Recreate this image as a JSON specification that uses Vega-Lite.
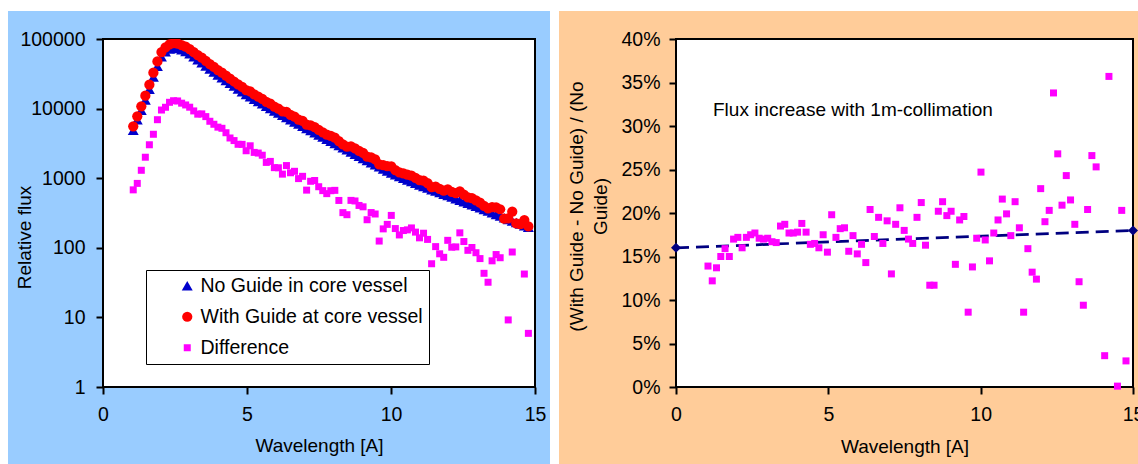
{
  "$schema": "https://vega.github.io/schema/vega-lite/v6.json",
  "background": "white",
  "padding": {"left": 7, "top": 10, "right": 0, "bottom": 0},
  "spacing": 8,
  "config": {
    "font": "Liberation Sans",
    "view": {"stroke": null},
    "point": {"opacity": 1},
    "axis": {
      "grid": false, "domain": false, "ticks": true, "tickColor": "black", "tickWidth": 2, "tickSize": 7,
      "labelFontSize": 19.5, "labelColor": "black", "labelFont": "Liberation Sans",
      "titleFontSize": 19, "titleColor": "black", "titleFontWeight": "normal", "titleFont": "Liberation Sans",
      "labelFlush": false, "labelOverlap": false
    }
  },
  "datasets": {
    "spectra": [
      {"wl":1.05,"noGuide":4890,"withGuide":5570,"difference":680,"ratio":0.139},
      {"wl":1.19,"noGuide":6900,"withGuide":7742,"difference":842,"ratio":0.122},
      {"wl":1.33,"noGuide":9480,"withGuide":10779,"difference":1299,"ratio":0.137},
      {"wl":1.47,"noGuide":13340,"withGuide":15341,"difference":2001,"ratio":0.150},
      {"wl":1.61,"noGuide":19010,"withGuide":22033,"difference":3023,"ratio":0.159},
      {"wl":1.75,"noGuide":28510,"withGuide":32787,"difference":4277,"ratio":0.150},
      {"wl":1.89,"noGuide":40740,"withGuide":47666,"difference":6926,"ratio":0.170},
      {"wl":2.03,"noGuide":55460,"withGuide":64999,"difference":9539,"ratio":0.172},
      {"wl":2.17,"noGuide":65310,"withGuide":75760,"difference":10450,"ratio":0.160},
      {"wl":2.31,"noGuide":71610,"withGuide":83927,"difference":12317,"ratio":0.172},
      {"wl":2.45,"noGuide":74130,"withGuide":87103,"difference":12973,"ratio":0.175},
      {"wl":2.59,"noGuide":72780,"withGuide":85662,"difference":12882,"ratio":0.177},
      {"wl":2.73,"noGuide":69980,"withGuide":81947,"difference":11967,"ratio":0.171},
      {"wl":2.87,"noGuide":66370,"withGuide":77653,"difference":11283,"ratio":0.170},
      {"wl":3.01,"noGuide":61240,"withGuide":71712,"difference":10472,"ratio":0.171},
      {"wl":3.15,"noGuide":55460,"withGuide":64722,"difference":9262,"ratio":0.167},
      {"wl":3.29,"noGuide":50120,"withGuide":58440,"difference":8320,"ratio":0.166},
      {"wl":3.43,"noGuide":45390,"withGuide":53787,"difference":8397,"ratio":0.185},
      {"wl":3.57,"noGuide":41020,"withGuide":48691,"difference":7671,"ratio":0.187},
      {"wl":3.71,"noGuide":37150,"withGuide":43726,"difference":6576,"ratio":0.177},
      {"wl":3.85,"noGuide":33650,"withGuide":39606,"difference":5956,"ratio":0.177},
      {"wl":3.99,"noGuide":30410,"withGuide":35823,"difference":5413,"ratio":0.178},
      {"wl":4.13,"noGuide":27730,"withGuide":32943,"difference":5213,"ratio":0.188},
      {"wl":4.27,"noGuide":25290,"withGuide":29792,"difference":4502,"ratio":0.178},
      {"wl":4.41,"noGuide":23070,"withGuide":26853,"difference":3783,"ratio":0.164},
      {"wl":4.55,"noGuide":21040,"withGuide":24512,"difference":3472,"ratio":0.165},
      {"wl":4.69,"noGuide":19190,"withGuide":22260,"difference":3070,"ratio":0.160},
      {"wl":4.83,"noGuide":17500,"withGuide":20563,"difference":3063,"ratio":0.175},
      {"wl":4.97,"noGuide":16000,"withGuide":18480,"difference":2480,"ratio":0.155},
      {"wl":5.11,"noGuide":14760,"withGuide":17682,"difference":2922,"ratio":0.198},
      {"wl":5.25,"noGuide":13650,"withGuide":15998,"difference":2348,"ratio":0.172},
      {"wl":5.39,"noGuide":12620,"withGuide":14917,"difference":2297,"ratio":0.182},
      {"wl":5.53,"noGuide":11690,"withGuide":13829,"difference":2139,"ratio":0.183},
      {"wl":5.67,"noGuide":10810,"withGuide":12496,"difference":1686,"ratio":0.156},
      {"wl":5.81,"noGuide":10020,"withGuide":11763,"difference":1743,"ratio":0.174},
      {"wl":5.95,"noGuide":9268,"withGuide":10686,"difference":1418,"ratio":0.153},
      {"wl":6.09,"noGuide":8610,"withGuide":10022,"difference":1412,"ratio":0.164},
      {"wl":6.23,"noGuide":7998,"withGuide":9142,"difference":1144,"ratio":0.143},
      {"wl":6.37,"noGuide":7447,"withGuide":8966,"difference":1519,"ratio":0.204},
      {"wl":6.51,"noGuide":6918,"withGuide":8115,"difference":1197,"ratio":0.173},
      {"wl":6.65,"noGuide":6442,"withGuide":7698,"difference":1256,"ratio":0.195},
      {"wl":6.79,"noGuide":5984,"withGuide":6971,"difference":987,"ratio":0.165},
      {"wl":6.93,"noGuide":5572,"withGuide":6636,"difference":1064,"ratio":0.191},
      {"wl":7.07,"noGuide":5188,"withGuide":5862,"difference":674,"ratio":0.130},
      {"wl":7.21,"noGuide":4831,"withGuide":5734,"difference":903,"ratio":0.187},
      {"wl":7.35,"noGuide":4498,"withGuide":5425,"difference":927,"ratio":0.206},
      {"wl":7.49,"noGuide":4188,"withGuide":4942,"difference":754,"ratio":0.180},
      {"wl":7.63,"noGuide":3899,"withGuide":4562,"difference":663,"ratio":0.170},
      {"wl":7.77,"noGuide":3639,"withGuide":4239,"difference":600,"ratio":0.165},
      {"wl":7.91,"noGuide":3388,"withGuide":4049,"difference":661,"ratio":0.195},
      {"wl":8.05,"noGuide":3155,"withGuide":3824,"difference":669,"ratio":0.212},
      {"wl":8.19,"noGuide":2938,"withGuide":3417,"difference":479,"ratio":0.163},
      {"wl":8.33,"noGuide":2735,"withGuide":3055,"difference":320,"ratio":0.117},
      {"wl":8.47,"noGuide":2553,"withGuide":2852,"difference":299,"ratio":0.117},
      {"wl":8.61,"noGuide":2377,"withGuide":2857,"difference":480,"ratio":0.202},
      {"wl":8.75,"noGuide":2213,"withGuide":2684,"difference":471,"ratio":0.213},
      {"wl":8.89,"noGuide":2061,"withGuide":2467,"difference":406,"ratio":0.197},
      {"wl":9.03,"noGuide":1923,"withGuide":2311,"difference":388,"ratio":0.202},
      {"wl":9.17,"noGuide":1791,"withGuide":2044,"difference":253,"ratio":0.141},
      {"wl":9.31,"noGuide":1671,"withGuide":1992,"difference":321,"ratio":0.192},
      {"wl":9.45,"noGuide":1560,"withGuide":1866,"difference":306,"ratio":0.196},
      {"wl":9.59,"noGuide":1455,"withGuide":1580,"difference":125,"ratio":0.086},
      {"wl":9.73,"noGuide":1358,"withGuide":1545,"difference":187,"ratio":0.138},
      {"wl":9.87,"noGuide":1268,"withGuide":1485,"difference":217,"ratio":0.171},
      {"wl":10.01,"noGuide":1183,"withGuide":1475,"difference":292,"ratio":0.247},
      {"wl":10.15,"noGuide":1119,"withGuide":1308,"difference":189,"ratio":0.169},
      {"wl":10.29,"noGuide":1057,"withGuide":1210,"difference":153,"ratio":0.145},
      {"wl":10.43,"noGuide":1000,"withGuide":1177,"difference":177,"ratio":0.177},
      {"wl":10.57,"noGuide":944,"withGuide":1125,"difference":181,"ratio":0.192},
      {"wl":10.71,"noGuide":893,"withGuide":1086,"difference":193,"ratio":0.216},
      {"wl":10.85,"noGuide":843,"withGuide":1011,"difference":168,"ratio":0.199},
      {"wl":10.99,"noGuide":798,"withGuide":937,"difference":139,"ratio":0.174},
      {"wl":11.13,"noGuide":759,"withGuide":921,"difference":162,"ratio":0.213},
      {"wl":11.27,"noGuide":721,"withGuide":853,"difference":132,"ratio":0.183},
      {"wl":11.41,"noGuide":685,"withGuide":744,"difference":59,"ratio":0.086},
      {"wl":11.55,"noGuide":653,"withGuide":757,"difference":104,"ratio":0.159},
      {"wl":11.69,"noGuide":621,"withGuide":703,"difference":82,"ratio":0.132},
      {"wl":11.83,"noGuide":590,"withGuide":663,"difference":73,"ratio":0.124},
      {"wl":11.97,"noGuide":562,"withGuide":690,"difference":128,"ratio":0.228},
      {"wl":12.11,"noGuide":535,"withGuide":637,"difference":102,"ratio":0.190},
      {"wl":12.25,"noGuide":508,"withGuide":611,"difference":103,"ratio":0.203},
      {"wl":12.39,"noGuide":484,"withGuide":648,"difference":164,"ratio":0.338},
      {"wl":12.53,"noGuide":460,"withGuide":583,"difference":123,"ratio":0.268},
      {"wl":12.67,"noGuide":438,"withGuide":530,"difference":92,"ratio":0.209},
      {"wl":12.81,"noGuide":416,"withGuide":517,"difference":101,"ratio":0.243},
      {"wl":12.95,"noGuide":396,"withGuide":481,"difference":85,"ratio":0.215},
      {"wl":13.09,"noGuide":376,"withGuide":446,"difference":70,"ratio":0.187},
      {"wl":13.23,"noGuide":356,"withGuide":399,"difference":43,"ratio":0.121},
      {"wl":13.37,"noGuide":337,"withGuide":369,"difference":32,"ratio":0.094},
      {"wl":13.51,"noGuide":318,"withGuide":383,"difference":65,"ratio":0.204},
      {"wl":13.65,"noGuide":302,"withGuide":382,"difference":80,"ratio":0.266},
      {"wl":13.79,"noGuide":286,"withGuide":358,"difference":72,"ratio":0.253},
      {"wl":13.93,"noGuide":270,"withGuide":262,"difference":null,"ratio":null},
      {"wl":14.07,"noGuide":256,"withGuide":265,"difference":9.2,"ratio":0.036},
      {"wl":14.21,"noGuide":243,"withGuide":330,"difference":87,"ratio":0.357},
      {"wl":14.35,"noGuide":231,"withGuide":224,"difference":null,"ratio":null},
      {"wl":14.49,"noGuide":219,"withGuide":219,"difference":0.22,"ratio":0.001},
      {"wl":14.63,"noGuide":208,"withGuide":250,"difference":42,"ratio":0.203},
      {"wl":14.77,"noGuide":197,"withGuide":203,"difference":5.9,"ratio":0.030}
    ],
    "trend": [
      {"wl": 0, "trend": 0.16},
      {"wl": 15, "trend": 0.18}
    ]
  },
  "hconcat": [
    {
      "width": 432,
      "height": 348,
      "resolve": {"scale": {"y": "independent"}, "axis": {"y": "independent"}},
      "layer": [
        {
          "data": {"values": [{}]},
          "layer": [
            {
              "mark": {"type": "rect", "color": "#99CCFF"},
              "encoding": {
                "x": {"datum": -3.299, "type": "quantitative", "scale": {"domain": [0, 15], "nice": false, "zero": false}},
                "x2": {"datum": 15.521},
                "y": {"datum": -30.46, "type": "quantitative", "scale": {"domain": [0, 100], "nice": false, "zero": false}, "axis": null},
                "y2": {"datum": 108.05}
              }
            },
            {
              "mark": {"type": "rect", "fill": "white", "stroke": "black", "strokeWidth": 2},
              "encoding": {
                "x": {"datum": 0, "type": "quantitative", "scale": {"domain": [0, 15], "nice": false, "zero": false}},
                "x2": {"datum": 15},
                "y": {"datum": 0, "type": "quantitative", "scale": {"domain": [0, 100], "nice": false, "zero": false}, "axis": null},
                "y2": {"datum": 100}
              }
            }
          ]
        },
        {
          "data": {"name": "spectra"},
          "transform": [{"fold": ["noGuide", "withGuide", "difference"], "as": ["series", "flux"]}],
          "mark": {"type": "point", "filled": true, "clip": true},
          "encoding": {
            "x": {
              "field": "wl", "type": "quantitative",
              "scale": {"domain": [0, 15], "nice": false, "zero": false},
              "axis": {"zindex": 2, "values": [0, 5, 10, 15], "title": "Wavelength [A]", "labelPadding": 11, "titleY": 58, "titleBaseline": "middle"}
            },
            "y": {
              "field": "flux", "type": "quantitative",
              "scale": {"type": "log", "domain": [1, 100000], "nice": false},
              "axis": {"zindex": 2, "orient": "left", "values": [1, 10, 100, 1000, 10000, 100000], "format": "d", "title": "Relative flux", "labelPadding": 11,
                       "titleX": -79, "titleY": 198, "titleAngle": 270, "titleAlign": "center", "titleBaseline": "middle"}
            },
            "color": {
              "field": "series", "type": "nominal",
              "scale": {"domain": ["noGuide", "withGuide", "difference"], "range": ["#0000CC", "#FF0000", "#FF00FF"]},
              "legend": {
                "orient": "none", "legendX": 43, "legendY": 231, "title": null,
                "fillColor": "white", "strokeColor": "black",
                "padding": 6, "rowPadding": 10, "labelFontSize": 19.5, "labelColor": "black", "labelFont": "Liberation Sans",
                "symbolOffset": 25.5, "labelOffset": 3.5, "symbolStrokeWidth": 0, "labelLimit": 400,
                "labelExpr": "datum.value == 'noGuide' ? 'No Guide in core vessel' : datum.value == 'withGuide' ? 'With Guide at core vessel' : 'Difference'"
              }
            },
            "shape": {
              "field": "series", "type": "nominal",
              "scale": {"domain": ["noGuide", "withGuide", "difference"], "range": ["triangle-up", "circle", "square"]}
            },
            "size": {
              "field": "series", "type": "nominal",
              "scale": {"type": "ordinal", "domain": ["noGuide", "withGuide", "difference"], "range": [120, 105, 49]}
            },
            "order": {"field": "series", "type": "ordinal", "sort": "ascending"}
          }
        }
      ]
    },
    {
      "width": 457,
      "height": 348,
      "layer": [
        {
          "data": {"values": [{}]},
          "mark": {"type": "rect", "color": "#FFCC99"},
          "encoding": {
            "x": {"datum": -3.84, "type": "quantitative", "scale": {"domain": [0, 15], "nice": false, "zero": false}},
            "x2": {"datum": 16},
            "y": {"datum": -0.118, "type": "quantitative", "scale": {"domain": [0, 0.4], "nice": false}},
            "y2": {"datum": 0.4322}
          }
        },
        {
          "data": {"values": [{}]},
          "mark": {"type": "rect", "fill": "white", "stroke": "black", "strokeWidth": 2},
          "encoding": {
            "x": {"datum": 0, "type": "quantitative", "scale": {"domain": [0, 15], "nice": false, "zero": false}},
            "x2": {"datum": 15},
            "y": {"datum": 0, "type": "quantitative", "scale": {"domain": [0, 0.4], "nice": false}},
            "y2": {"datum": 0.4}
          }
        },
        {
          "data": {"name": "trend"},
          "mark": {"type": "line", "color": "#000080", "strokeWidth": 2.75, "strokeDash": [13, 7]},
          "encoding": {
            "x": {"field": "wl", "type": "quantitative", "scale": {"domain": [0, 15], "nice": false, "zero": false}},
            "y": {"field": "trend", "type": "quantitative", "scale": {"domain": [0, 0.4], "nice": false}}
          }
        },
        {
          "data": {"name": "trend"},
          "mark": {"type": "point", "shape": "diamond", "filled": true, "color": "#000080", "size": 100},
          "encoding": {
            "x": {"field": "wl", "type": "quantitative", "scale": {"domain": [0, 15], "nice": false, "zero": false}},
            "y": {"field": "trend", "type": "quantitative", "scale": {"domain": [0, 0.4], "nice": false}}
          }
        },
        {
          "data": {"name": "spectra"},
          "mark": {"type": "point", "shape": "square", "filled": true, "color": "#FF00FF", "size": 49},
          "encoding": {
            "x": {
              "field": "wl", "type": "quantitative",
              "scale": {"domain": [0, 15], "nice": false, "zero": false},
              "axis": {"zindex": 2, "values": [0, 5, 10, 15], "title": "Wavelength [A]", "labelPadding": 11, "titleY": 59, "titleBaseline": "middle"}
            },
            "y": {
              "field": "ratio", "type": "quantitative",
              "scale": {"domain": [0, 0.4], "nice": false},
              "axis": {"zindex": 2, "values": [0, 0.05, 0.1, 0.15, 0.2, 0.25, 0.3, 0.35, 0.4], "format": ".0%", "labelPadding": 9,
                       "title": ["(With Guide - No Guide) / (No", "Guide)"], "titleLineHeight": 24,
                       "titleX": -100, "titleY": 167, "titleAngle": 270, "titleAlign": "center", "titleBaseline": "middle"}
            }
          }
        },
        {
          "data": {"values": [{"note": "Flux increase with 1m-collimation"}]},
          "mark": {"type": "text", "align": "left", "baseline": "middle", "fontSize": 19, "font": "Liberation Sans", "color": "black"},
          "encoding": {
            "x": {"datum": 1.214, "type": "quantitative", "scale": {"domain": [0, 15], "nice": false, "zero": false}},
            "y": {"datum": 0.3184, "type": "quantitative", "scale": {"domain": [0, 0.4], "nice": false}},
            "text": {"field": "note", "type": "nominal"}
          }
        }
      ]
    }
  ]
}
